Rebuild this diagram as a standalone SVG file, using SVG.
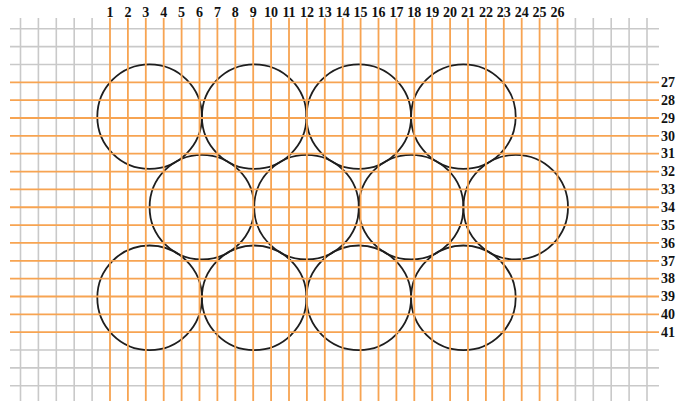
<svg xmlns="http://www.w3.org/2000/svg" width="678" height="401" viewBox="0 0 678 401">
<style>
.g{stroke:#c9c9c9;stroke-width:1.6;fill:none}
.o{stroke:#f7a452;stroke-width:1.8;fill:none}
.c{stroke:#1e1e1e;stroke-width:1.8;fill:none}
.t{font-family:"Liberation Serif","Times New Roman",serif;font-weight:bold;font-size:14px;fill:#111}
.tc{text-anchor:middle}
</style>
<rect width="678" height="401" fill="#fff"/>
<g id="grid-gray">
<path class="g" d="M20.5 18V401M38.4 18V401M56.3 18V401M74.2 18V401M92.1 18V401M575.4 18V401M593.3 18V401M611.2 18V401M629.1 18V401M647 18V401"/>
<path class="g" d="M10 28.75H659M10 46.6H659M10 64.45H659M10 350.05H659M10 367.9H659M10 385.75H659"/>
</g>
<g id="c1"><circle class="c" cx="149.6" cy="116.6" r="52.3"/></g>
<g id="c2"><circle class="c" cx="254.2" cy="116.6" r="52.3"/></g>
<g id="c3"><circle class="c" cx="358.8" cy="116.6" r="52.3"/></g>
<g id="c4"><circle class="c" cx="463.4" cy="116.6" r="52.3"/></g>
<g id="c5"><circle class="c" cx="201.9" cy="207.2" r="52.3"/></g>
<g id="c6"><circle class="c" cx="306.5" cy="207.2" r="52.3"/></g>
<g id="c7"><circle class="c" cx="411.1" cy="207.2" r="52.3"/></g>
<g id="c8"><circle class="c" cx="515.7" cy="207.2" r="52.3"/></g>
<g id="c9"><circle class="c" cx="149.6" cy="297.8" r="52.3"/></g>
<g id="c10"><circle class="c" cx="254.2" cy="297.8" r="52.3"/></g>
<g id="c11"><circle class="c" cx="358.8" cy="297.8" r="52.3"/></g>
<g id="c12"><circle class="c" cx="463.4" cy="297.8" r="52.3"/></g>
<g id="grid-orange">
<path class="o" d="M110 18V401M127.9 18V401M145.8 18V401M163.7 18V401M181.6 18V401M199.5 18V401M217.4 18V401M235.3 18V401M253.2 18V401M271.1 18V401M289 18V401M306.9 18V401M324.8 18V401M342.7 18V401M360.6 18V401M378.5 18V401M396.4 18V401M414.3 18V401M432.2 18V401M450.1 18V401M468 18V401M485.9 18V401M503.8 18V401M521.7 18V401M539.6 18V401M557.5 18V401"/>
<path class="o" d="M10 82.3H659M10 100.15H659M10 118H659M10 135.85H659M10 153.7H659M10 171.55H659M10 189.4H659M10 207.25H659M10 225.1H659M10 242.95H659M10 260.8H659M10 278.65H659M10 296.5H659M10 314.35H659M10 332.2H659"/>
</g>
<g id="labels-top" class="t tc">
<text x="110" y="17">1</text><text x="127.9" y="17">2</text><text x="145.8" y="17">3</text><text x="163.7" y="17">4</text><text x="181.6" y="17">5</text><text x="199.5" y="17">6</text><text x="217.4" y="17">7</text><text x="235.3" y="17">8</text><text x="253.2" y="17">9</text><text x="271.1" y="17">10</text><text x="289" y="17">11</text><text x="306.9" y="17">12</text><text x="324.8" y="17">13</text><text x="342.7" y="17">14</text><text x="360.6" y="17">15</text><text x="378.5" y="17">16</text><text x="396.4" y="17">17</text><text x="414.3" y="17">18</text><text x="432.2" y="17">19</text><text x="450.1" y="17">20</text><text x="468" y="17">21</text><text x="485.9" y="17">22</text><text x="503.8" y="17">23</text><text x="521.7" y="17">24</text><text x="539.6" y="17">25</text><text x="557.5" y="17">26</text>
</g>
<g id="labels-right" class="t">
<text x="661" y="87">27</text><text x="661" y="104.85">28</text><text x="661" y="122.7">29</text><text x="661" y="140.55">30</text><text x="661" y="158.4">31</text><text x="661" y="176.25">32</text><text x="661" y="194.1">33</text><text x="661" y="211.95">34</text><text x="661" y="229.8">35</text><text x="661" y="247.65">36</text><text x="661" y="265.5">37</text><text x="661" y="283.35">38</text><text x="661" y="301.2">39</text><text x="661" y="319.05">40</text><text x="661" y="336.9">41</text>
</g>
</svg>
